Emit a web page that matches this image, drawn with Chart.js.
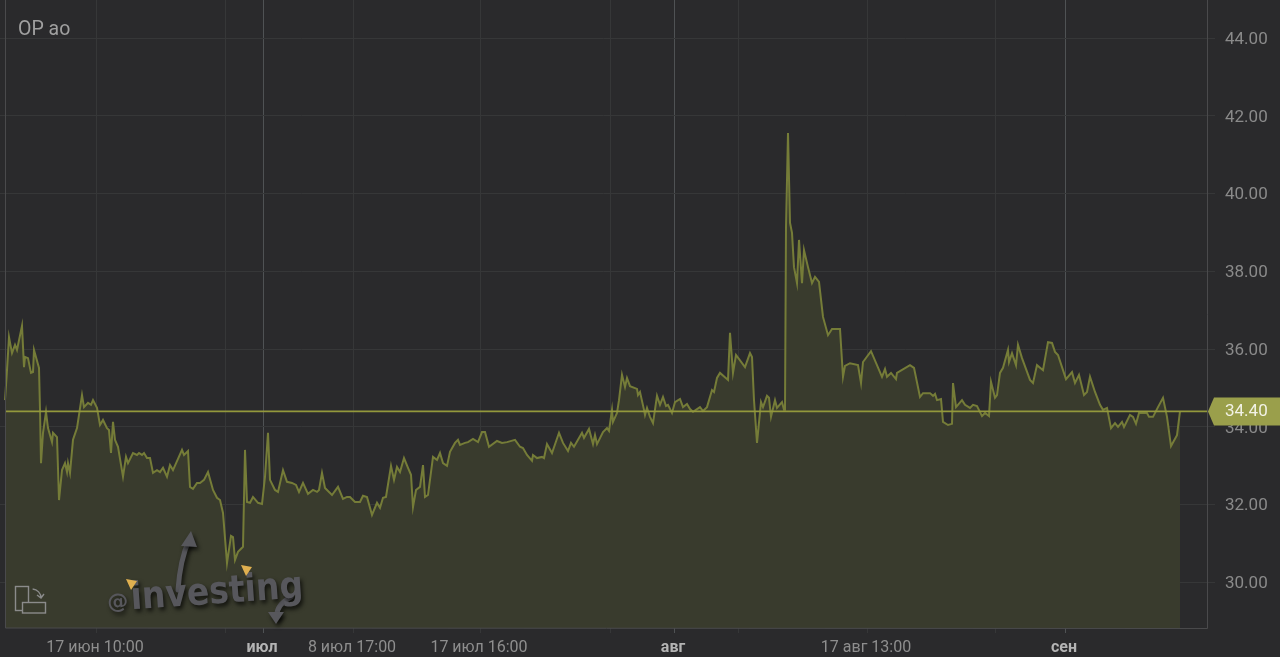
<!DOCTYPE html>
<html><head><meta charset="utf-8">
<style>html,body{margin:0;padding:0;background:#2a2a2c;overflow:hidden}canvas{display:block;filter:blur(0.35px)}</style>
<script src="https://cdn.jsdelivr.net/npm/chart.js@4"></script>
</head><body><canvas id="c" width="1280" height="657"></canvas>
<script>
const chartTitle = "ОР ао";
const lastPrice = 34.40;
const yTicks = [30,32,34,36,38,40,42,44];
const gridBars = [96,225,263,353,480,610,674,738,867,995,1065];
const gridLabels = ["17 июн 10:00","","июл","8 июл 17:00","17 июл 16:00","","авг","","17 авг 13:00","","сен"];
const monthBars = [263,674,1065];
const bars = [5,7,9,12,15,17,22,24,25,28,31,33,34,39,40,41,43,46,48,52,53,57,59,62,65,67,68,70,73,77,82,84,88,91,93,97,100,103,107,109,111,113,115,118,123,126,128,133,137,139,142,144,147,150,153,157,160,163,167,170,173,182,184,188,190,193,197,200,204,208,213,217,220,223,227,231,233,235,238,243,245,247,250,253,258,262,265,268,270,275,278,283,287,292,296,299,303,308,313,317,319,322,325,332,338,343,347,350,355,360,363,367,372,377,380,383,386,391,394,397,400,404,408,411,413,416,420,423,425,428,433,437,440,443,447,450,455,458,460,465,468,473,478,482,485,489,497,502,507,515,520,523,527,532,533,537,542,544,547,552,559,563,568,571,574,582,584,589,593,595,597,603,607,609,612,613,617,619,622,625,627,630,637,638,640,644,645,647,650,653,657,660,663,666,668,672,675,680,683,687,690,693,700,703,707,712,714,717,720,728,730,733,736,745,750,752,754,757,761,763,767,769,771,775,777,782,784,785,786,788,790,792,794,797,799,802,804,808,812,815,819,823,828,832,840,843,845,850,858,861,863,871,882,885,887,891,896,897,910,914,920,923,930,933,935,937,941,943,948,952,953,956,962,965,970,973,977,982,985,989,991,995,997,1000,1003,1008,1009,1012,1016,1018,1022,1030,1033,1037,1043,1048,1052,1055,1058,1066,1072,1075,1079,1084,1087,1090,1095,1100,1103,1107,1111,1115,1118,1122,1124,1130,1133,1136,1139,1147,1149,1153,1158,1163,1167,1171,1177,1180];
const prices = [34.69,35.46,36.31,35.90,36.11,35.98,36.60,35.54,35.80,35.77,35.39,35.41,35.98,35.52,34.44,33.07,33.85,34.39,33.97,33.61,33.85,33.74,32.12,32.89,33.07,32.84,33.07,32.82,33.67,33.97,34.82,34.51,34.62,34.57,34.69,34.49,34.05,34.18,33.97,33.92,33.33,34.13,33.67,33.49,32.72,33.23,33.07,33.33,33.28,33.33,33.28,33.33,33.20,33.20,32.82,32.89,32.84,32.95,32.72,33.02,32.89,33.41,33.28,33.38,32.46,32.41,32.56,32.56,32.64,32.84,32.38,32.18,32.12,31.79,30.50,31.20,31.17,30.58,30.79,30.92,33.41,32.07,32.05,32.20,32.05,32.02,32.72,33.85,32.64,32.38,32.33,32.89,32.59,32.56,32.51,32.33,32.56,32.28,32.38,32.33,32.38,32.82,32.43,32.25,32.46,32.15,32.20,32.20,32.07,32.07,32.23,32.20,31.74,32.05,31.92,32.18,32.20,33.00,32.64,32.97,32.84,33.20,32.95,32.77,31.94,32.38,32.46,33.02,32.20,32.25,33.23,33.15,33.33,33.07,33.00,33.36,33.59,33.67,33.54,33.59,33.61,33.69,33.61,33.87,33.87,33.49,33.64,33.59,33.61,33.67,33.49,33.46,33.28,33.13,33.28,33.20,33.23,33.20,33.56,33.33,33.85,33.59,33.38,33.59,33.49,33.85,33.72,33.95,33.56,33.79,33.56,33.87,33.97,33.90,34.44,34.13,34.36,34.69,35.34,35.03,35.26,35.05,34.98,34.82,34.90,34.44,34.31,34.49,34.26,34.10,34.80,34.57,34.77,34.54,34.57,34.36,34.64,34.72,34.51,34.59,34.46,34.39,34.51,34.41,34.51,34.95,34.90,35.26,35.39,35.21,36.42,35.39,35.85,35.54,35.90,35.80,34.69,33.59,34.64,34.51,34.80,34.75,34.26,34.69,34.49,34.64,34.44,34.44,39.14,41.56,39.25,38.99,38.11,37.70,38.81,37.70,38.55,38.11,37.70,37.86,37.73,36.83,36.36,36.52,36.52,35.29,35.57,35.64,35.59,35.13,35.67,35.95,35.29,35.49,35.29,35.39,35.23,35.39,35.59,35.52,34.77,34.87,34.87,34.80,34.85,34.69,34.72,34.13,34.05,34.08,35.13,34.51,34.69,34.57,34.49,34.57,34.54,34.28,34.36,34.28,35.16,34.75,34.82,35.39,35.52,35.98,35.67,35.90,35.59,36.11,35.77,35.21,35.13,35.59,35.46,36.18,36.16,35.93,35.85,35.23,35.41,35.13,35.34,34.82,34.90,35.29,34.90,34.57,34.44,34.49,33.97,34.10,34.00,34.13,34.00,34.31,34.26,34.08,34.36,34.36,34.26,34.26,34.51,34.75,34.26,33.51,33.79,34.40];

const BG = "#2a2a2c";
const isMonth = ctx => !!(ctx.tick && monthBars.includes(ctx.tick.value));
const decor = {
  id:"decor",
  afterLayout(ch){
    const a=ch.chartArea, y=ch.scales.y, b=a.bottom;
    a.top=0; a.height=b;
    y.top=0; y.bottom=b; y.height=b; y.configure();
  },
  beforeDraw(ch){
    const c=ch.ctx; c.save(); c.fillStyle=BG; c.fillRect(0,0,ch.width,ch.height); c.restore();
  },
  afterDatasetsDraw(ch){
    const c=ch.ctx, a=ch.chartArea, y=ch.scales.y;
    c.save();
    // frame
    c.strokeStyle="#4a4a4c"; c.lineWidth=1;
    c.beginPath(); c.moveTo(5.5,0); c.lineTo(5.5,a.bottom); c.lineTo(a.right+.5,a.bottom+.5); c.lineTo(a.right+.5,0); c.stroke();
    // title
    c.fillStyle="#a0a0a0"; c.font="19.5px Roboto"; c.textBaseline="alphabetic"; c.textAlign="left";
    c.fillText(chartTitle,18,35);
    // rotate icon
    c.strokeStyle="#8b8b8b"; c.lineWidth=1.4;
    c.strokeRect(15.5,586.5,13,24);
    c.fillStyle="#3a3c2e"; c.fillRect(22,602,23,11);
    c.strokeRect(22.5,602.5,23,10.5);
    c.beginPath(); c.arc(32,598,9,-1.5,0); c.moveTo(37,595); c.lineTo(41,598); c.lineTo(44,594); c.stroke();
    // watermark
    c.save();
    c.shadowColor="rgba(0,0,0,.7)"; c.shadowBlur=4; c.shadowOffsetX=2; c.shadowOffsetY=3;
    c.strokeStyle="#57575c"; c.fillStyle="#57575c"; c.lineCap="round"; c.lineWidth=5;
    c.beginPath(); c.moveTo(178,590); c.quadraticCurveTo(180,560,189,540); c.stroke();
    c.beginPath(); c.moveTo(181,546); c.lineTo(191,531); c.lineTo(197,547); c.closePath(); c.fill();
    c.beginPath(); c.moveTo(291,597); c.quadraticCurveTo(276,605,277,616); c.stroke();
    c.beginPath(); c.moveTo(268,612); c.lineTo(284,612); c.lineTo(276,624); c.closePath(); c.fill();
    c.translate(108,611); c.rotate(-0.07);
    c.font="bold 21px 'DejaVu Sans'"; c.fillText("@",0,-2);
    c.font="bold 38px 'DejaVu Sans'";
    c.save(); c.scale(0.87,1); c.fillText("investing",27,0); c.restore();
    c.restore();
    c.fillStyle="#e0b050";
    for(const [x,py] of [[131,584],[246,570]]){
      c.beginPath(); c.moveTo(x-5,py-5); c.lineTo(x+6,py-3); c.lineTo(x,py+6); c.closePath(); c.fill();
    }
    // price pill
    const py=y.getPixelForValue(lastPrice);
    c.fillStyle="#9a9f4b";
    c.beginPath(); c.moveTo(1208,py);
    c.lineTo(1214,py-14); c.lineTo(1280,py-14); c.lineTo(1280,py+14); c.lineTo(1214,py+14); c.closePath(); c.fill();
    c.fillStyle="#f2f2e6"; c.font="17px Roboto"; c.textAlign="left"; c.textBaseline="middle";
    c.fillText(lastPrice.toFixed(2),1225,py+.5);
    c.restore();
  }
};
new Chart(document.getElementById("c"),{
  type:"line",
  plugins:[decor],
  data:{datasets:[
    {data:[{x:5,y:lastPrice},{x:1207,y:lastPrice}],borderColor:"#93983c",borderWidth:1.8,pointRadius:0,fill:false,order:0},
    {data:bars.map((b,i)=>({x:b,y:prices[i]})),borderColor:"#757c38",borderWidth:2,pointRadius:0,tension:0,
     fill:"start",backgroundColor:"#393b2d",order:1}
  ]},
  options:{
    responsive:false,animation:false,
    layout:{padding:0,autoPadding:false},
    plugins:{legend:{display:false},tooltip:{enabled:false}},
    scales:{
      x:{type:"linear",min:0,max:1207,
        afterBuildTicks(s){s.ticks=gridBars.map(v=>({value:v}));},
        afterFit(s){s.height=29;},
        border:{display:false},
        grid:{drawOnChartArea:true,tickLength:5,lineWidth:1,
          color:ctx=>isMonth(ctx)?"#4f5254":"#363738"},
        ticks:{autoSkip:false,maxRotation:0,padding:5,labelOffset:-1,
          callback:(v)=>gridLabels[gridBars.indexOf(v)]||"",
          color:ctx=>isMonth(ctx)?"#b4b4b4":"#8e8e8e",
          font:ctx=>isMonth(ctx)?{family:"Roboto",size:16,weight:"bold"}:{family:"Roboto",size:16}}
      },
      y:{position:"right",min:28.83,max:44.98,
        afterBuildTicks(s){s.ticks=yTicks.map(v=>({value:v}));},
        afterFit(s){s.width=73;},
        border:{display:false},
        grid:{color:"#363738",lineWidth:1,tickLength:8},
        ticks:{padding:10,labelOffset:1.5,color:"#8a8a8a",font:{family:"Roboto",size:17},callback:v=>v.toFixed(2)}
      }
    }
  }
});
</script></body></html>
